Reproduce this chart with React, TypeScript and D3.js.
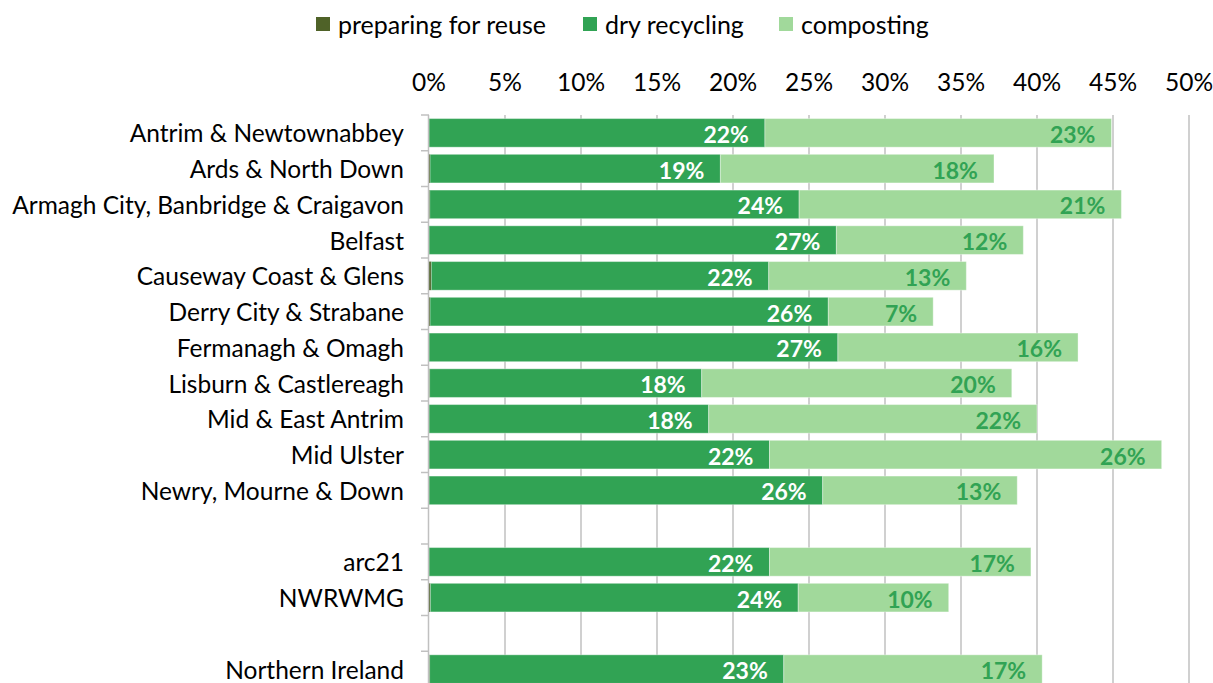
import React, { useEffect, useRef } from "react";
import * as d3 from "d3";

// rows of the chart; empty keys are spacer rows
const categories = [
    "Antrim & Newtownabbey",
    "Ards & North Down",
    "Armagh City, Banbridge & Craigavon",
    "Belfast",
    "Causeway Coast & Glens",
    "Derry City & Strabane",
    "Fermanagh & Omagh",
    "Lisburn & Castlereagh",
    "Mid & East Antrim",
    "Mid Ulster",
    "Newry, Mourne & Down",
    "",
    "arc21",
    "NWRWMG",
    " ",
    "Northern Ireland",
];

// values in %, null for spacer rows
const reuse = [0, 0.07, 0.05, 0, 0.15, 0.07, 0, 0.04, 0, 0, 0, null, 0, 0.09, null, 0.04];
const dryRecycling = [22.1, 19.1, 24.3, 26.8, 22.2, 26.2, 26.9, 17.9, 18.4, 22.4, 25.9, null, 22.4, 24.2, null, 23.3];
const composting = [22.8, 18.0, 21.2, 12.3, 13.0, 6.9, 15.8, 20.4, 21.6, 25.8, 12.8, null, 17.2, 9.9, null, 17.0];

const series = ["preparing for reuse", "dry recycling", "composting"];
const colors = ["#4f6228", "#31a354", "#a1d99b"];
const xTicks = [0, 5, 10, 15, 20, 25, 30, 35, 40, 45, 50];

const FONT = "Lato, 'Open Sans', sans-serif";

export default function App() {
    const svgRef = useRef<SVGSVGElement>(null);

    useEffect(() => {
        if (!svgRef.current) return;
        const svg = d3.select(svgRef.current);
        svg.selectAll("*").remove();

        const top = 115;
        const bottom = 687;
        const x = d3.scaleLinear().domain([0, 50]).range([429, 1189]);
        const y = d3.scaleBand<string>()
            .domain(categories)
            .range([top, bottom])
            .paddingInner(0.2)
            .paddingOuter(0.1);
        const step = y.step();

        // gridlines
        svg.append("g")
            .selectAll("line")
            .data(xTicks.slice(1))
            .enter()
            .append("line")
            .attr("x1", d => x(d))
            .attr("x2", d => x(d))
            .attr("y1", top)
            .attr("y2", bottom)
            .attr("stroke", "#c0c0c0")
            .attr("stroke-width", 1.5);

        // top axis labels
        svg.append("g")
            .selectAll("text")
            .data(xTicks)
            .enter()
            .append("text")
            .attr("x", d => x(d))
            .attr("y", 81)
            .attr("text-anchor", "middle")
            .attr("dominant-baseline", "central")
            .style("font-family", FONT)
            .style("font-size", "24.5px")
            .style("fill", "#000")
            .text(d => `${d}%`);

        // stacked bars
        const rows = categories.map((c, i) => ({
            name: c,
            vals: [reuse[i], dryRecycling[i], composting[i]],
        })).filter(r => r.vals[0] !== null);

        rows.forEach(r => {
            let acc = 0;
            const g = svg.append("g");
            r.vals.forEach((v, si) => {
                const val = v as number;
                const x0 = acc;
                acc += val;
                if (val <= 0) return;
                g.append("rect")
                    .attr("x", x(x0))
                    .attr("y", y(r.name) || 0)
                    .attr("width", x(acc) - x(x0))
                    .attr("height", y.bandwidth())
                    .attr("fill", colors[si])
                    .attr("stroke", si === 0 ? "none" : "rgba(255,255,255,0.35)")
                    .attr("stroke-width", 1);
                if (si > 0) {
                    g.append("text")
                        .attr("x", x(acc) - 16)
                        .attr("y", (y(r.name) || 0) + y.bandwidth() / 2 + 1)
                        .attr("text-anchor", "end")
                        .attr("dominant-baseline", "central")
                        .style("font-family", FONT)
                        .style("font-size", "23px")
                        .style("font-weight", "bold")
                        .style("fill", si === 1 ? "#ffffff" : "#31a354")
                        .text(`${Math.round(val)}%`);
                }
            });
        });

        // y axis line and ticks
        svg.append("line")
            .attr("x1", 428.5)
            .attr("x2", 428.5)
            .attr("y1", top)
            .attr("y2", bottom)
            .attr("stroke", "#c0c0c0")
            .attr("stroke-width", 1.5);
        svg.append("g")
            .selectAll("line")
            .data(d3.range(categories.length + 1))
            .enter()
            .append("line")
            .attr("x1", 421)
            .attr("x2", 429)
            .attr("y1", d => top + d * step)
            .attr("y2", d => top + d * step)
            .attr("stroke", "#c0c0c0")
            .attr("stroke-width", 1.5);

        // category labels
        svg.append("g")
            .selectAll("text")
            .data(categories.filter(c => c.trim() !== ""))
            .enter()
            .append("text")
            .attr("x", 404)
            .attr("y", d => (y(d) || 0) + y.bandwidth() / 2)
            .attr("text-anchor", "end")
            .attr("dominant-baseline", "central")
            .style("font-family", FONT)
            .style("font-size", "24.5px")
            .style("fill", "#000")
            .text(d => d);

        // legend
        const legendX = [316, 583, 779];
        const legend = svg.append("g");
        series.forEach((s, i) => {
            legend.append("rect")
                .attr("x", legendX[i])
                .attr("y", 17)
                .attr("width", 14)
                .attr("height", 14)
                .attr("fill", colors[i]);
            legend.append("text")
                .attr("x", legendX[i] + 22)
                .attr("y", 24)
                .attr("dominant-baseline", "central")
                .style("font-family", FONT)
                .style("font-size", "25px")
                .style("fill", "#000")
                .text(s);
        });
    }, []);

    return (
        <div style={{ position: "absolute", left: 0, top: 0, width: 1213, height: 683, background: "#fff" }}>
            <svg ref={svgRef} width={1213} height={683} style={{ display: "block" }}></svg>
        </div>
    );
}
